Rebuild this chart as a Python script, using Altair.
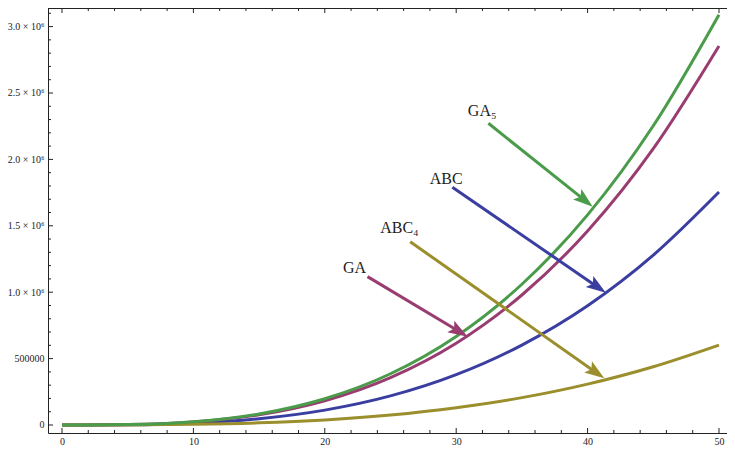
import math
import altair as alt
import pandas as pd

# ---- data ----
x_vals = [0, 5, 10, 15, 20, 25, 30, 35, 40, 45, 50]
abc = [0, 1800, 14000, 47000, 112000, 219000, 379000, 602000, 898000, 1279000, 1754000]
ga = [0, 2900, 23000, 77000, 183000, 357000, 616000, 979000, 1461000, 2081000, 2854000]
abc4 = [0, 600, 4800, 16300, 38500, 75000, 130000, 206000, 308000, 439000, 602000]
ga5 = [0, 3100, 24700, 83400, 198000, 386000, 667000, 1060000, 1582000, 2253000, 3090000]

series_names = ["ABC", "GA", "ABC4", "GA5"]
series_colors = ["#3A3EA0", "#993D71", "#9B8E2C", "#4A9B4A"]

# annotations: label text, label position, arrow start, arrow end
ann_series = ["GA5", "ABC", "ABC4", "GA"]
ann_text = ["GA\u2085", "ABC", "ABC\u2084", "GA"]
ann_lx = [31.98, 29.24, 25.68, 22.26]
ann_ly = [2364000, 1852000, 1483000, 1182000]
arr_x1 = [32.45, 29.71, 26.50, 23.25]
arr_y1 = [2272000, 1790000, 1380000, 1117000]
arr_x2 = [40.39, 41.39, 41.27, 30.88]
arr_y2 = [1644000, 996000, 352000, 665000]

x_ticks = [0, 10, 20, 30, 40, 50]
x_minor = [v for v in range(0, 51, 2) if v % 10 != 0]
y_ticks = [0, 500000, 1000000, 1500000, 2000000, 2500000, 3000000]
y_minor = [v for v in range(0, 3100001, 100000) if v % 500000 != 0]

# ---- layout ----
W, H = 679, 425
XD = [-1.065, 50.61]
YD = [-60240, 3140000]
kx = W / (XD[1] - XD[0])
ky = H / (YD[1] - YD[0])
FONT = "Liberation Serif"
AXIS_COLOR = "#222222"

xs = alt.Scale(domain=XD, nice=False, zero=False)
ys = alt.Scale(domain=YD, nice=False, zero=False)

rows = []
for name, vals in zip(series_names, [abc, ga, abc4, ga5]):
    for xv, yv in zip(x_vals, vals):
        rows.append({"x": xv, "y": yv, "s": name})
curves_df = pd.DataFrame(rows)

arr_rows = []
for i in range(len(ann_series)):
    dxp = (arr_x2[i] - arr_x1[i]) * kx
    dyp = -(arr_y2[i] - arr_y1[i]) * ky
    L = math.hypot(dxp, dyp)
    ang = math.degrees(math.atan2(dxp, -dyp)) % 360
    back = 8.0
    ex = arr_x2[i] - (dxp / L) * back / kx
    ey = arr_y2[i] + (dyp / L) * back / ky
    arr_rows.append({
        "s": ann_series[i], "t": ann_text[i],
        "lx": ann_lx[i], "ly": ann_ly[i],
        "x1": arr_x1[i], "y1": arr_y1[i],
        "xe": ex, "ye": ey,
        "x2": arr_x2[i], "y2": arr_y2[i],
        "ang": ang,
    })
arr_df = pd.DataFrame(arr_rows)

color = alt.Color("s:N", scale=alt.Scale(domain=series_names, range=series_colors), legend=None)

y_label_expr = (
    "datum.value == 0 ? '0' : datum.value == 500000 ? '500000' : "
    "format(datum.value / 1000000, '.1f') + ' \u00d7 10\u2076'"
)

curves = alt.Chart(curves_df).mark_line(strokeWidth=3, interpolate="monotone").encode(
    x=alt.X("x:Q", scale=xs,
            axis=alt.Axis(values=x_ticks, title=None, grid=False, ticks=False,
                          labelPadding=3, domainColor=AXIS_COLOR, labelColor=AXIS_COLOR,
                          labelFont=FONT, labelFontSize=10, labelFlush=False)),
    y=alt.Y("y:Q", scale=ys,
            axis=alt.Axis(values=y_ticks, title=None, grid=False, ticks=False,
                          labelPadding=4, domainColor=AXIS_COLOR, labelColor=AXIS_COLOR,
                          labelFont=FONT, labelFontSize=10, labelExpr=y_label_expr)),
    color=color,
    order=alt.Order("x:Q"),
    detail="s:N",
)

# frame top line
top_line = alt.Chart(pd.DataFrame({"a": [0]})).mark_rule(color=AXIS_COLOR, strokeWidth=1).encode(
    x=alt.value(0), x2=alt.value(W), y=alt.value(0.5)
)

ytick_major = alt.Chart(pd.DataFrame({"v": y_ticks})).mark_rule(color=AXIS_COLOR).encode(
    y=alt.Y("v:Q", scale=ys), x=alt.value(0), x2=alt.value(5)
)
ytick_minor = alt.Chart(pd.DataFrame({"v": y_minor})).mark_rule(color=AXIS_COLOR).encode(
    y=alt.Y("v:Q", scale=ys), x=alt.value(0), x2=alt.value(3)
)
xtick_major_b = alt.Chart(pd.DataFrame({"v": x_ticks})).mark_rule(color=AXIS_COLOR).encode(
    x=alt.X("v:Q", scale=xs), y=alt.value(H), y2=alt.value(H - 5)
)
xtick_minor_b = alt.Chart(pd.DataFrame({"v": x_minor})).mark_rule(color=AXIS_COLOR).encode(
    x=alt.X("v:Q", scale=xs), y=alt.value(H), y2=alt.value(H - 3)
)
xtick_major_t = alt.Chart(pd.DataFrame({"v": x_ticks})).mark_rule(color=AXIS_COLOR).encode(
    x=alt.X("v:Q", scale=xs), y=alt.value(0), y2=alt.value(5)
)
xtick_minor_t = alt.Chart(pd.DataFrame({"v": x_minor})).mark_rule(color=AXIS_COLOR).encode(
    x=alt.X("v:Q", scale=xs), y=alt.value(0), y2=alt.value(3)
)

arrow_lines = alt.Chart(arr_df).mark_rule(strokeWidth=3).encode(
    x=alt.X("x1:Q", scale=xs), y=alt.Y("y1:Q", scale=ys),
    x2="xe:Q", y2="ye:Q", color=color,
)

head_path = "M0,0L-0.75,2.2L0,1.75L0.75,2.2Z"
arrow_heads = alt.Chart(arr_df).mark_point(
    shape=head_path, filled=True, size=324, opacity=1, strokeWidth=0
).encode(
    x=alt.X("x2:Q", scale=xs), y=alt.Y("y2:Q", scale=ys),
    angle=alt.Angle("ang:Q", scale=None), color=color,
)

labels = alt.Chart(arr_df).mark_text(
    font=FONT, fontSize=16, color=AXIS_COLOR, align="center", baseline="middle"
).encode(
    x=alt.X("lx:Q", scale=xs), y=alt.Y("ly:Q", scale=ys), text="t:N"
)

chart = alt.layer(
    curves, top_line, ytick_major, ytick_minor, xtick_major_b, xtick_minor_b,
    xtick_major_t, xtick_minor_t, arrow_lines, arrow_heads, labels
).properties(
    width=W, height=H,
    autosize=alt.AutoSizeParams(type="none"),
    padding={"left": 40, "top": 0, "right": 0, "bottom": 12},
    background="white",
).configure_view(stroke="transparent")

chart.save("out.html", embed_options={"renderer": "svg", "actions": False})
